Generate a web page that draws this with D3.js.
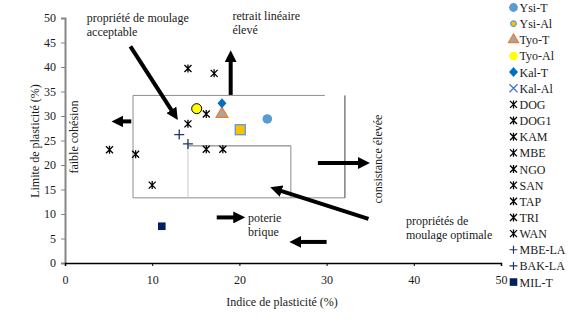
<!DOCTYPE html>
<html><head><meta charset="utf-8">
<script src="https://cdn.jsdelivr.net/npm/d3@7"></script>
</head>
<body style="margin:0;background:#fff"><svg id="c" width="569" height="326"></svg>
<script>
// ---- data ----
const seriesNames = ["Ysi-T","Ysi-Al","Tyo-T","Tyo-Al","Kal-T","Kal-Al","DOG","DOG1","KAM","MBE","NGO","SAN","TAP","TRI","WAN","MBE-LA","BAK-LA","MIL-T"];
const seriesIP = [23.2, 20.1, 18.0, 15.1, 18.0, null, 14.1, 17.1, 16.2, 14.1, 5.1, 8.1, 16.2, 18.1, 10.0, 13.1, 14.1, 11.1];
const seriesLP = [29.4, 27.2, 30.4, 31.5, 32.6, null, 39.7, 38.7, 30.4, 28.4, 23.1, 22.2, 23.2, 23.2, 15.9, 26.2, 24.3, 7.5];
const seriesMarker = ["circle","squareAl","triangle","circleY","diamond","cross","star","star","star","star","star","star","star","star","star","plus","plus","square"];
const xTicks = [0,10,20,30,40,50];
const yTicks = [0,5,10,15,20,25,30,35,40,45,50];
// zones (IP, LP)
const outerZone = [[7.8,34.2],[32.1,13.3]];
const outerTopEnd = 29.8;
const innerZone = [[14.1,23.9],[25.9,13.3]];
// annotation arrows [x1,y1,x2,y2] (head at x2,y2)
const arrows = [
  [7.5,44.2,12.9,29.3],
  [19.0,34.3,19.0,43.3],
  [7.6,28.9,5.4,28.9],
  [29.0,20.4,34.9,20.4],
  [34.8,9.0,23.6,15.4],
  [17.4,9.3,20.6,9.3],
  [30.0,4.3,25.8,4.3]
];
const notes = [
  {t:["propriété de moulage","acceptable"], x:2.5, y:49.1},
  {t:["retrait linéaire","élevé"], x:19.2, y:49.6},
  {t:["poterie","brique"], x:21.0, y:8.3},
  {t:["propriétés de","moulage optimale"], x:39.1, y:7.8}
];
const rotNotes = [
  {t:"faible cohésion", x:1.5, y:25.7},
  {t:"consistance élevée", x:36.3, y:21.2}
];

const FONT = '"Liberation Serif", "Times New Roman", Tinos';
// ---- scales ----
const svg = d3.select("#c");
const x = d3.scaleLinear().domain([0,50]).range([65,501]);
const y = d3.scaleLinear().domain([0,50]).range([263,18]);

function txt(sel){ return sel.style("font-family",FONT).attr("fill","#1a1a1a"); }

// zones
const gz = svg.append("g").attr("fill","none");
function seg(x1,y1,x2,y2,c){ gz.append("line").attr("x1",x(x1)).attr("x2",x(x2)).attr("y1",y(y1)).attr("y2",y(y2)).attr("stroke",c); }
seg(outerZone[0][0],outerZone[0][1],outerTopEnd,outerZone[0][1],"#8c8c8c");
seg(outerZone[0][0],outerZone[0][1],outerZone[0][0],outerZone[1][1],"#8c8c8c");
seg(outerZone[0][0],outerZone[1][1],outerZone[1][0],outerZone[1][1],"#8c8c8c");
seg(outerZone[1][0],outerZone[0][1],outerZone[1][0],outerZone[1][1],"#404040");
seg(innerZone[0][0],innerZone[0][1],innerZone[0][0],innerZone[1][1],"#c8c8c8");
seg(innerZone[0][0],innerZone[0][1],innerZone[1][0],innerZone[0][1],"#707070");
seg(innerZone[1][0],innerZone[0][1],innerZone[1][0],innerZone[1][1],"#8c8c8c");

// axes
const yAxis = svg.append("g").attr("transform","translate(65,0)")
  .call(d3.axisLeft(y).tickValues(yTicks).tickSize(4).tickPadding(5));
yAxis.select(".domain").attr("stroke","#868686").attr("stroke-width",2);
yAxis.selectAll(".tick line").attr("stroke","#868686");
txt(yAxis.selectAll("text")).attr("font-size",12);
const xAxis = svg.append("g").attr("transform","translate(0,263)")
  .call(d3.axisBottom(x).tickValues(xTicks).tickSize(3).tickPadding(9));
xAxis.select(".domain").attr("stroke","#000").attr("stroke-width",1.5);
txt(xAxis.selectAll("text")).attr("font-size",12);

txt(svg.append("text")).attr("x",282).attr("y",306).attr("text-anchor","middle").attr("font-size",12).text("Indice de plasticité (%)");
txt(svg.append("text")).attr("transform","translate(39,141) rotate(-90)").attr("text-anchor","middle").attr("font-size",12).text("Limite de plasticité (%)");

// arrows
const defs = svg.append("defs");
defs.append("marker").attr("id","ah").attr("viewBox","0 0 10 10").attr("refX",2).attr("refY",5)
  .attr("markerWidth",3).attr("markerHeight",3).attr("orient","auto").attr("markerUnits","strokeWidth")
  .append("path").attr("d","M0,0 L10,5 L0,10 Z").attr("fill","#000");
svg.append("g").selectAll("line").data(arrows).join("line")
  .attr("x1",d=>x(d[0])).attr("y1",d=>y(d[1]))
  .attr("x2",d=>{const dx=x(d[2])-x(d[0]),dy=y(d[3])-y(d[1]),L=Math.hypot(dx,dy);return x(d[2])-dx/L*9;})
  .attr("y2",d=>{const dx=x(d[2])-x(d[0]),dy=y(d[3])-y(d[1]),L=Math.hypot(dx,dy);return y(d[3])-dy/L*9;})
  .attr("stroke","#000").attr("stroke-width",4).attr("marker-end","url(#ah)");

// notes
notes.forEach(n=>{
  const t = txt(svg.append("text")).attr("x",x(n.x)).attr("y",y(n.y)).attr("font-size",12);
  n.t.forEach((s,i)=>t.append("tspan").attr("x",x(n.x)).attr("dy",i?14:0).text(s));
});
rotNotes.forEach(n=>{
  txt(svg.append("text")).attr("transform",`translate(${x(n.x)},${y(n.y)}) rotate(-90)`).attr("text-anchor","middle")
    .attr("font-size",12).text(n.t);
});

// markers
function drawMarker(g,type,sz){
  const s = sz||1;
  if(type==="circle") g.append("circle").attr("r",4.8*s).attr("fill","#5b9bd5");
  else if(type==="squareAl") g.append("rect").attr("x",-5).attr("y",-5).attr("width",10).attr("height",10).attr("fill","#ffc000").attr("stroke","#5b9bd5").attr("stroke-width",1.3);
  else if(type==="smallAl") g.append("circle").attr("r",2.8).attr("fill","#ffc000").attr("stroke","#5b9bd5").attr("stroke-width",1.2);
  else if(type==="triangle") g.append("path").attr("d",d3.symbol(d3.symbolTriangle,60*s*s)()).attr("fill","#a5a5a5").attr("stroke","#ed7d31").attr("stroke-width",1.3);
  else if(type==="circleY") g.append("circle").attr("r",5).attr("fill","#ffff00").attr("stroke","#000").attr("stroke-width",1);
  else if(type==="circleYleg") g.append("circle").attr("r",4.3).attr("fill","#ffff00");
  else if(type==="diamond") g.append("path").attr("d","M0,-5L4.5,0L0,5L-4.5,0Z").attr("fill","#0070c0");
  else if(type==="cross") g.append("path").attr("d","M-4,-4L4,4M-4,4L4,-4").attr("stroke","#4472c4").attr("stroke-width",1.2);
  else if(type==="star") g.append("path").attr("d","M-3.5,-3.5L3.5,3.5M-3.5,3.5L3.5,-3.5M0,-4L0,4").attr("stroke","#000").attr("stroke-width",1.3);
  else if(type==="plus") g.append("path").attr("d","M-5,0L5,0M0,-5L0,5").attr("stroke","#1f3864").attr("stroke-width",1.3);
  else if(type==="plusLeg") g.append("path").attr("d","M-4,0L4,0M0,-4L0,4").attr("stroke","#1f3864").attr("stroke-width",1.2);
  else if(type==="square") g.append("rect").attr("x",-3.8).attr("y",-3.8).attr("width",7.6).attr("height",7.6).attr("fill","#002060");
}
const pts = seriesNames.map((n,i)=>({n,ip:seriesIP[i],lp:seriesLP[i],m:seriesMarker[i]})).filter(d=>d.ip!=null);
const gp = svg.append("g");
pts.forEach(d=>{
  const g = gp.append("g").attr("transform",`translate(${x(d.ip)},${y(d.lp)})`);
  drawMarker(g,d.m);
});

// legend
const leg = svg.append("g");
seriesNames.forEach((n,i)=>{
  const yy = 7.5 + i*16.15;
  const g = leg.append("g").attr("transform",`translate(513.5,${yy})`);
  let m = seriesMarker[i];
  if(m==="squareAl") m="smallAl";
  if(m==="circleY") m="circleYleg";
  if(m==="plus") m="plusLeg";
  const mg = g.append("g");
  drawMarker(mg,m, m==="triangle"?0.85:(m==="circle"?0.92:1));
  txt(g.append("text")).attr("x",6).attr("y",4.5).attr("font-size",12).text(n);
});
</script></body></html>
